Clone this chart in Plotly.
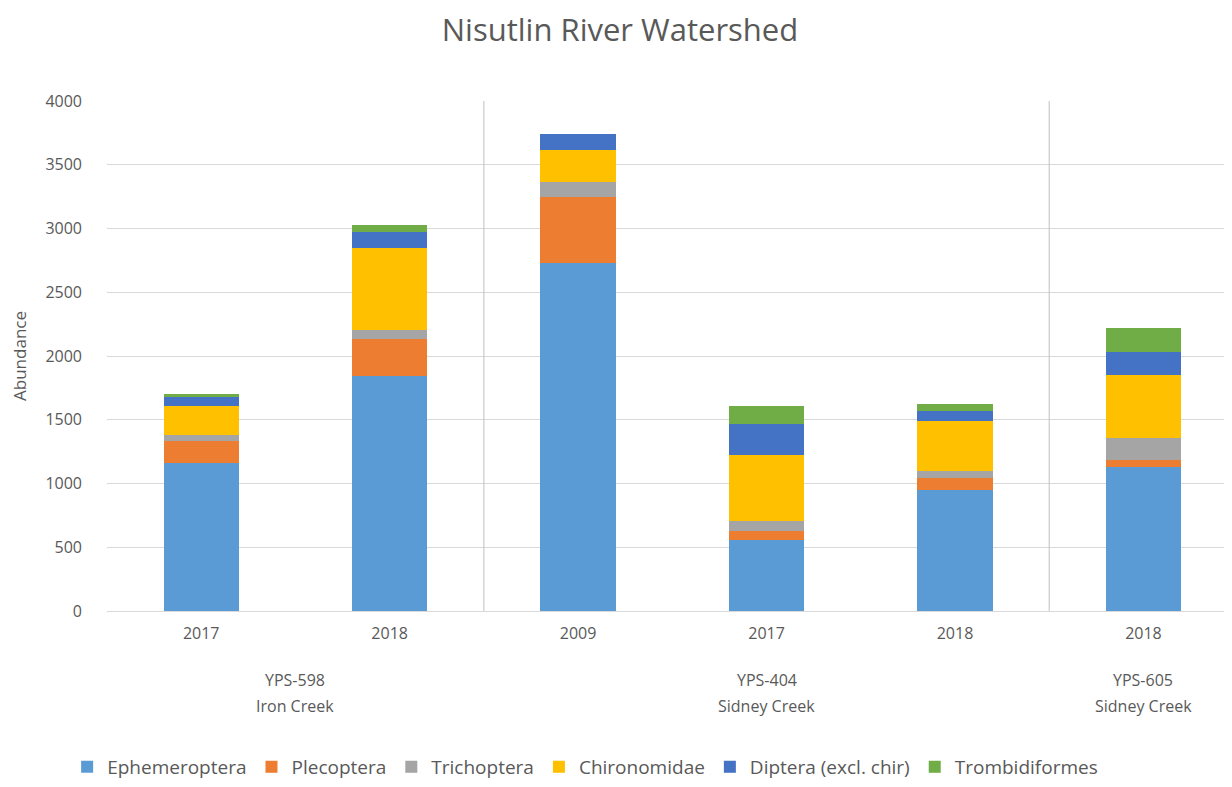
import plotly.graph_objects as go

# One bar per site/year sample
bar_ids = ["598-2017", "598-2018", "404-2009", "404-2017", "404-2018", "605-2018"]
years = ["2017", "2018", "2009", "2017", "2018", "2018"]

# Site labels shown under the years, centred on their bars (category index)
site_codes = ["YPS-598", "YPS-404", "YPS-605"]
site_names = ["Iron Creek", "Sidney Creek", "Sidney Creek"]
site_centres = [0.5, 3, 5]
site_breaks = [1.5, 4.5]

# Abundance per taxon, stacked in this order
ephemeroptera = [1160, 1846, 2732, 557, 949, 1127]
plecoptera = [170, 285, 513, 73, 92, 57]
trichoptera = [50, 73, 122, 76, 57, 175]
chironomidae = [228, 641, 249, 518, 395, 492]
diptera = [78, 130, 125, 240, 78, 183]
trombidiformes = [14, 52, 0, 144, 50, 183]

series = [
    ("Ephemeroptera", ephemeroptera, "#5B9BD5"),
    ("Plecoptera", plecoptera, "#ED7D31"),
    ("Trichoptera", trichoptera, "#A5A5A5"),
    ("Chironomidae", chironomidae, "#FFC000"),
    ("Diptera (excl. chir)", diptera, "#4472C4"),
    ("Trombidiformes", trombidiformes, "#70AD47"),
]

font_family = "'Open Sans', Lato, sans-serif"
grey_text = "#595959"

fig = go.Figure()
for name, vals, color in series:
    fig.add_trace(go.Bar(
        x=bar_ids,
        y=vals,
        name=name,
        marker=dict(color=color, line=dict(width=0)),
    ))

# vertical separators between sites
for xpos in site_breaks:
    fig.add_shape(type="line", xref="x", yref="paper",
                  x0=xpos, x1=xpos, y0=0, y1=1,
                  line=dict(color="#BFBFBF", width=1))

# site labels (code on one line, creek name below)
for code, cname, xc in zip(site_codes, site_names, site_centres):
    fig.add_annotation(x=xc, y=0, xref="x", yref="paper",
                       yshift=-69, yanchor="middle", showarrow=False,
                       text=code, font=dict(size=16, color=grey_text))
    fig.add_annotation(x=xc, y=0, xref="x", yref="paper",
                       yshift=-95, yanchor="middle", showarrow=False,
                       text=cname, font=dict(size=16, color=grey_text))

# the page body adds an 8px offset, so the figure is 8px smaller and margins pulled in
fig.update_layout(
    barmode="stack",
    bargap=0.6,
    width=1224,
    height=779,
    plot_bgcolor="white",
    paper_bgcolor="white",
    font=dict(family=font_family, color=grey_text, size=16),
    title=dict(
        text="Nisutlin River Watershed",
        x=0.5, xanchor="center",
        y=0.972, yanchor="middle",
        font=dict(size=31, color=grey_text),
    ),
    margin=dict(l=99, r=0, t=93, b=176),
    xaxis=dict(
        type="category",
        range=[-0.5, 5.47],
        tickvals=bar_ids,
        ticktext=years,
        showline=True,
        linecolor="#D9D9D9",
        ticks="",
        ticklabelstandoff=8,
        tickfont=dict(size=16, color=grey_text),
        automargin=False,
    ),
    yaxis=dict(
        title=dict(text="Abundance", font=dict(size=17, color=grey_text), standoff=22),
        range=[0, 4000],
        dtick=500,
        showgrid=True,
        gridcolor="#D9D9D9",
        zeroline=False,
        showline=False,
        ticks="",
        ticklabelstandoff=24,
        tickfont=dict(size=16, color=grey_text),
        automargin=False,
    ),
    legend=dict(
        orientation="h",
        x=0.425, xanchor="center",
        y=-0.343, yanchor="bottom",
        font=dict(size=19, color=grey_text),
        traceorder="normal",
        itemwidth=30,
    ),
)

fig.write_html("out.html")
